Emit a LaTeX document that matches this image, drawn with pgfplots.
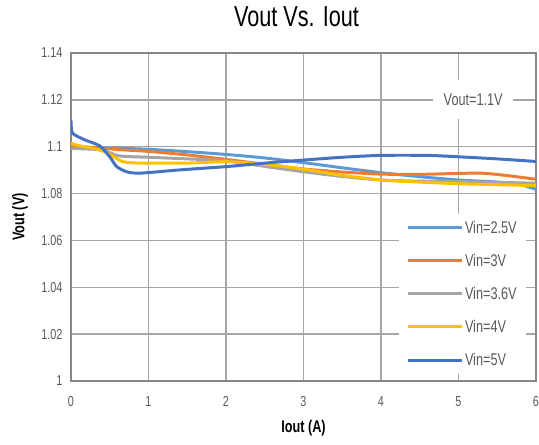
\documentclass[border=0pt]{standalone}
\usepackage{fontspec}
\setmainfont{Liberation Sans}[FakeStretch=0.75]
\usepackage{pgfplots}
\pgfplotsset{compat=1.18}
\definecolor{cA}{HTML}{5B9BD5}
\definecolor{cB}{HTML}{ED7D31}
\definecolor{cC}{HTML}{A5A5A5}
\definecolor{cD}{HTML}{FFC000}
\definecolor{cE}{HTML}{4472C4}
\definecolor{gridc}{HTML}{A6A6A6}
\definecolor{boxc}{HTML}{868686}
\definecolor{tickc}{HTML}{595959}
\begin{document}
\begin{tikzpicture}
\useasboundingbox (-71bp,-64bp) rectangle (468bp,381bp);
\begin{axis}[
  at={(0,0)}, anchor=south west,
  scale only axis, width=465bp, height=328bp,
  xmin=0, xmax=6, ymin=1, ymax=1.14,
  xtick={0,1,2,3,4,5,6}, ytick={1,1.02,1.04,1.06,1.08,1.1,1.12,1.14},
  yticklabels={1,1.02,1.04,1.06,1.08,1.1,1.12,1.14},
  /pgf/number format/assume math mode=true,
  grid=major, major grid style={gridc, line width=1.3pt},
  axis line style={boxc, line width=2.6pt},
  tick style={draw=none},
  ticklabel style={font=\fontsize{14.5}{15}\selectfont, text=tickc},
  xticklabel style={yshift=-12bp},
  yticklabel style={xshift=-5bp},
  xlabel={\textbf{Iout (A)}}, ylabel={\textbf{Vout (V)}},
  label style={font=\fontsize{17}{18}\selectfont},
  xlabel style={at={(axis description cs:0.5,-0.1433)}, anchor=center},
  ylabel style={at={(axis description cs:-0.1097,0.5)}, anchor=center, rotate=0},
  title={Vout Vs. Iout},
  title style={font=\fontsize{29}{30}\selectfont, at={(axis description cs:0.5,1)}, anchor=center, yshift=30bp, xshift=-7bp},
  legend style={at={(rel axis cs:0.705,0.021)}, anchor=south west, fill=white, draw=none,
    font=\fontsize{17}{18}\selectfont, text=tickc, row sep=15.3bp, inner xsep=7bp, inner ysep=5bp},
  legend cell align=left,
  legend image code/.code={\draw[#1, line width=3pt] (0bp,0bp) -- (54bp,0bp);},
  every axis plot/.append style={line width=3pt, smooth, tension=0.4},
]
\addplot[cA] coordinates {(0,1.1) (0.5,1.0995) (1,1.0989) (1.5,1.0979) (2,1.0967) (2.5,1.0952) (3,1.0932) (3.5,1.091) (4,1.0889) (4.5,1.0872) (5,1.0858) (5.5,1.0849) (5.8,1.0838) (6,1.0818)};
\addlegendentry{Vin=2.5V}
\addplot[cB] coordinates {(0,1.1) (0.4,1.0995) (0.6,1.0988) (1,1.098) (1.5,1.0965) (2,1.0946) (2.5,1.0925) (3,1.0905) (3.5,1.0892) (4,1.0883) (4.5,1.0882) (5,1.0886) (5.3,1.0887) (5.6,1.0878) (6,1.0861)};
\addlegendentry{Vin=3V}
\addplot[cC] coordinates {(0,1.0993) (0.4,1.0986) (0.6,1.0962) (0.8,1.0957) (1,1.0955) (1.5,1.0948) (2,1.094) (2.5,1.0916) (3,1.0893) (3.5,1.0873) (4,1.0858) (4.5,1.0853) (5,1.0851) (5.5,1.0848) (6,1.0844)};
\addlegendentry{Vin=3.6V}
\addplot[cD] coordinates {(0,1.1015) (0.1,1.1005) (0.35,1.0988) (0.5,1.0968) (0.65,1.0938) (0.8,1.0931) (1,1.093) (1.5,1.093) (2,1.0936) (2.5,1.0925) (3,1.0904) (3.5,1.0878) (4,1.0858) (4.5,1.0849) (5,1.0842) (5.5,1.0838) (6,1.0834)};
\addlegendentry{Vin=4V}
\addplot[cE] coordinates {(0,1.1112) (0.02,1.1058) (0.18,1.1029) (0.37,1.1004) (0.5,1.0957) (0.59,1.0915) (0.72,1.0893) (0.89,1.0887) (1.4,1.0901) (2,1.0915) (2.5,1.093) (3,1.0943) (3.5,1.0955) (4,1.0963) (4.6,1.0963) (5,1.0957) (5.5,1.0948) (6,1.0937)};
\addlegendentry{Vin=5V}
\node[fill=white, minimum width=80bp, minimum height=39bp, inner sep=0pt, font=\fontsize{17}{18}\selectfont, text=tickc] at (axis cs:5.19,1.12) {Vout=1.1V};
\end{axis}
\end{tikzpicture}
\end{document}
